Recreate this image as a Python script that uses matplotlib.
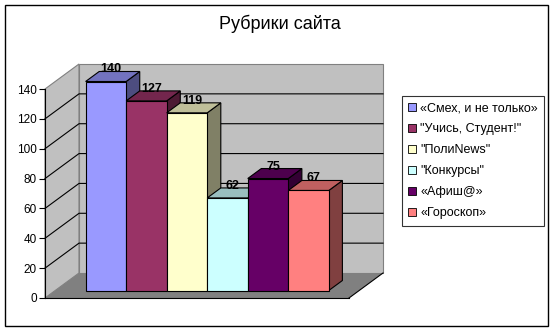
import numpy as np
import matplotlib.pyplot as plt
from matplotlib.patches import Polygon, Patch, Rectangle
from matplotlib.colors import to_rgb

plt.rcParams['font.family'] = ['Liberation Sans', 'DejaVu Sans']

title = 'Рубрики сайта'
labels = ['«Смех, и не только»', '"Учись, Студент!"', '"ПолиNews"',
          '"Конкурсы"', '«Афиш@»', '«Гороскоп»']
values = [140, 127, 119, 62, 75, 67]
colors = ['#9999FF', '#993366', '#FFFFCC', '#CCFFFF', '#660066', '#FF8080']
yticks = [0, 20, 40, 60, 80, 100, 120, 140]

W, H = 555, 332
fig = plt.figure(figsize=(W / 100, H / 100), dpi=100)
ax = fig.add_axes([45 / W, 34 / H, 304 / W, 209 / H])

xmax, ymax = 7.5, 140
ax.set_xlim(0, xmax)
ax.set_ylim(0, ymax)

# depth offset of the back plane, in data units
kx = 34 / (304 / xmax)
ky = 25 / (209 / ymax)
d0, d1 = 0.3, 0.7  # bar front / back depth


def pt(x, y, d):
    return (x + d * kx, y + d * ky)


def shade(c, f):
    return tuple(v * f for v in to_rgb(c))


# walls and floor
wall = '#C0C0C0'
ax.add_patch(Polygon([pt(0, 0, 0), pt(0, ymax, 0), pt(0, ymax, 1), pt(0, 0, 1)],
                     fc=wall, ec='#808080', lw=0.8, clip_on=False, zorder=1))
ax.add_patch(Polygon([pt(0, 0, 1), pt(0, ymax, 1), pt(xmax, ymax, 1), pt(xmax, 0, 1)],
                     fc=wall, ec='#808080', lw=0.8, clip_on=False, zorder=1))
ax.add_patch(Polygon([pt(0, 0, 0), pt(xmax, 0, 0), pt(xmax, 0, 1), pt(0, 0, 1)],
                     fc='#808080', ec='none', clip_on=False, zorder=1))
ax.plot(*zip(pt(xmax, 0, 0), pt(xmax, 0, 1)), color='black', lw=0.8,
        clip_on=False, zorder=2)

for v in yticks[1:-1]:
    ax.plot(*zip(pt(0, v, 0), pt(0, v, 1), pt(xmax, v, 1)), color='black',
            lw=0.8, clip_on=False, zorder=2)

# bars
for i, (v, c) in enumerate(zip(values, colors)):
    x0, x1 = 0.75 + i, 1.75 + i
    front = [pt(x0, 0, d0), pt(x0, v, d0), pt(x1, v, d0), pt(x1, 0, d0)]
    top = [pt(x0, v, d0), pt(x0, v, d1), pt(x1, v, d1), pt(x1, v, d0)]
    side = [pt(x1, 0, d0), pt(x1, v, d0), pt(x1, v, d1), pt(x1, 0, d1)]
    z = 3 + i
    ax.add_patch(Polygon(side, fc=shade(c, 0.5), ec='black', lw=0.8, zorder=z, clip_on=False))
    ax.add_patch(Polygon(top, fc=shade(c, 0.75), ec='black', lw=0.8, zorder=z, clip_on=False))
    ax.add_patch(Polygon(front, fc=c, ec='black', lw=0.8, zorder=z, clip_on=False))
    ax.annotate(str(v), pt((x0 + x1) / 2, v, d0), xytext=(5, 12),
                textcoords='offset pixels', ha='center', va='center',
                fontsize=9, fontweight='bold', zorder=20, annotation_clip=False)

# axes
for s in ['top', 'right']:
    ax.spines[s].set_visible(False)
for s in ['left', 'bottom']:
    ax.spines[s].set_zorder(2.5)
    ax.spines[s].set_linewidth(0.8)
ax.set_xticks([])
ax.set_yticks(yticks)
ax.tick_params(axis='y', direction='out', length=4, width=0.8, labelsize=8.5, pad=2)
ax.patch.set_visible(False)

fig.text(280 / W, 1 - 24 / H, title, ha='center', va='center', fontsize=13)

handles = [Patch(fc=c, ec='black', lw=0.6) for c in colors]
leg = fig.legend(handles, labels, loc='upper left',
                 bbox_to_anchor=(402 / W, 1 - 96 / H), fontsize=9,
                 handlelength=0.65, handleheight=0.65, handletextpad=0.3,
                 labelspacing=0.72, borderpad=0.5, borderaxespad=0,
                 fancybox=False, frameon=True)
leg.get_frame().set_edgecolor('black')
leg.get_frame().set_linewidth(0.8)

fig.add_artist(Rectangle((5 / W, 1 - 326 / H), 543 / W, 321 / H,
                         transform=fig.transFigure, fill=False, ec='black', lw=1))

fig.savefig('out.png', dpi=100)
